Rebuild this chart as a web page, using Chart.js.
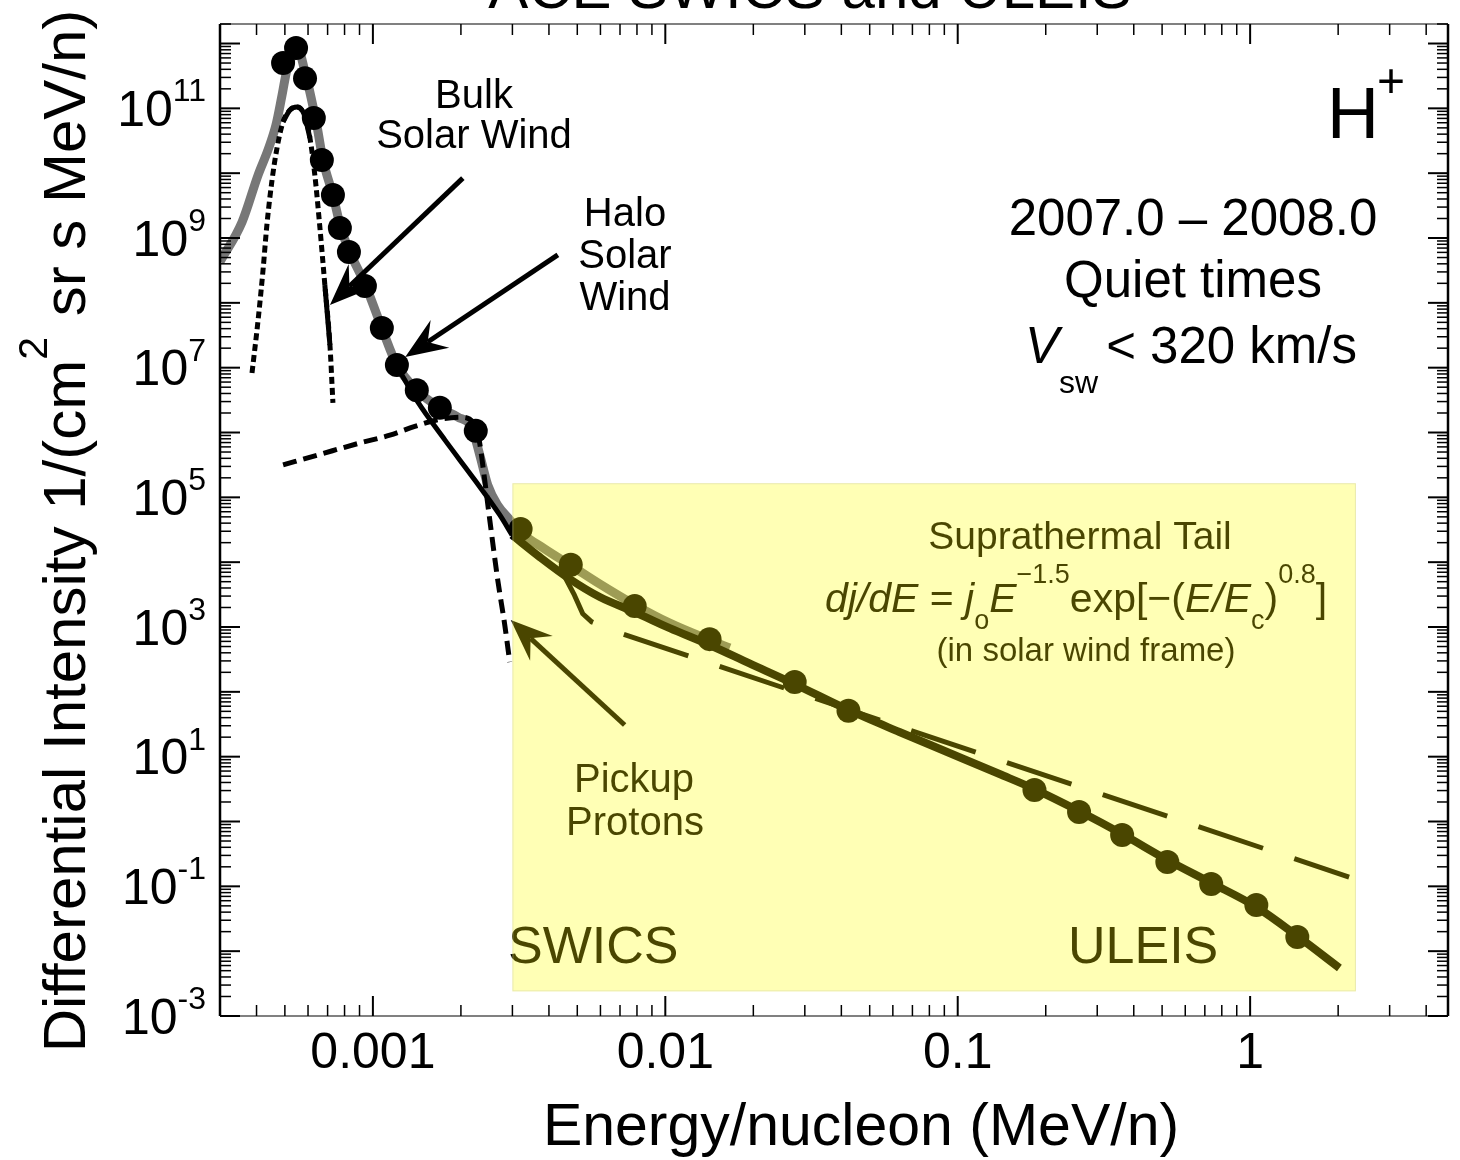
<!DOCTYPE html>
<html>
<head>
<meta charset="utf-8">
<script src="https://cdn.jsdelivr.net/npm/chart.js@4.4.1/dist/chart.umd.min.js"></script>
<style>
  html, body { margin: 0; padding: 0; background: #fff; }
  canvas { display: block; }
</style>
</head>
<body>
<canvas id="spectrum" width="1460" height="1160"></canvas>
<script>
// energy in MeV/n, intensity in 1/(cm2 sr s MeV/n)
const swicsEnergy = [4.93e-4, 5.46e-4, 5.86e-4, 6.28e-4, 6.69e-4, 7.30e-4, 7.71e-4, 8.28e-4, 9.39e-4, 1.073e-3,
                     1.208e-3, 1.413e-3, 1.694e-3, 2.248e-3, 3.20e-3, 4.75e-3, 7.86e-3, 1.417e-2, 2.77e-2, 4.23e-2]
const swicsFlux   = [5.0e11, 8.5e11, 2.9e11, 7.1e10, 1.6e10, 4.6e9, 1.43e9, 6.1e8, 1.82e8, 4.1e7,
                     1.1e7, 4.5e6, 2.4e6, 1.06e6, 3.25e4, 9.1e3, 2.1e3, 650, 142, 51]

const uleisEnergy = [0.183, 0.260, 0.365, 0.521, 0.736, 1.05, 1.45]
const uleisFlux   = [3.06, 1.40, 0.62, 0.237, 0.109, 0.0515, 0.0166]

// total model (grey)
const modelEnergy = [3.0e-4, 3.57e-4, 4.05e-4, 4.38e-4, 4.66e-4, 4.89e-4, 5.08e-4, 5.33e-4, 5.58e-4, 5.86e-4,
                     6.14e-4, 6.43e-4, 6.75e-4, 7.30e-4, 7.77e-4, 8.34e-4, 9.46e-4, 1.073e-3, 1.208e-3, 1.413e-3,
                     1.694e-3, 1.95e-3, 2.18e-3, 2.32e-3, 2.47e-3, 2.67e-3, 2.94e-3, 3.20e-3, 3.87e-3, 4.79e-3,
                     5.97e-3, 7.86e-3, 1.035e-2, 1.417e-2, 1.66e-2]
const modelFlux   = [4.3e8, 1.77e9, 9.4e9, 2.3e10, 5.5e10, 1.6e11, 3.9e11, 6.6e11, 7.4e11, 3.6e11,
                     1.5e11, 5.5e10, 1.6e10, 4.6e9, 1.43e9, 6.1e8, 1.82e8, 4.1e7, 1.1e7, 4.5e6,
                     2.4e6, 1.74e6, 1.17e6, 4.5e5, 1.55e5, 7.6e4, 4.5e4, 2.9e4, 1.6e4, 8.7e3,
                     4.6e3, 2.2e3, 1.15e3, 631, 474]

// suprathermal tail fit
const tailEnergy = [1.217e-3, 1.424e-3, 1.762e-3, 2.231e-3, 2.716e-3, 2.99e-3, 3.72e-3, 4.71e-3, 5.97e-3, 7.86e-3,
                    1.035e-2, 1.417e-2, 1.94e-2, 2.77e-2, 4.23e-2, 6.32e-2, 9.37e-2, 0.139, 0.183, 0.260,
                    0.365, 0.521, 0.736, 1.05, 1.45, 2.02]
const tailFlux   = [9.9e6, 2.96e6, 7.7e5, 1.85e5, 5.35e4, 2.63e4, 1.2e4, 5.5e3, 2.9e3, 1.7e3,
                    960, 528, 275, 132, 52.5, 24.0, 11.4, 5.4, 3.17, 1.45,
                    0.64, 0.255, 0.113, 0.048, 0.0171, 0.0055]

// E^-1.5 power law
const powerEnergy = [4.51e-3, 4.89e-3, 5.22e-3, 5.60e-3, 6.82e-3, 2.18]
const powerFlux   = [6.2e3, 3.1e3, 1.6e3, 1.2e3, 838, 0.139]

// pickup protons
const pickupEnergy = [4.93e-4, 6.59e-4, 9.03e-4, 1.143e-3, 1.391e-3, 1.694e-3, 2.00e-3, 2.20e-3, 2.31e-3, 2.40e-3,
                      2.51e-3, 2.673e-3, 2.825e-3, 2.938e-3]
const pickupFlux   = [3.16e5, 4.6e5, 6.9e5, 9.1e5, 1.24e6, 1.60e6, 1.72e6, 1.45e6, 7.5e5, 2.2e5,
                      4.5e4, 5.3e3, 1.07e3, 288]

// bulk solar wind maxwellian
const bulkEnergy = [3.86e-4, 4.05e-4, 4.21e-4, 4.34e-4, 4.52e-4, 4.70e-4, 4.93e-4, 5.20e-4, 5.50e-4, 5.81e-4,
                    6.09e-4, 6.33e-4, 6.59e-4, 6.85e-4, 7.13e-4, 7.30e-4]
const bulkFlux   = [8.3e6, 5.45e7, 3.2e8, 1.59e9, 7.85e9, 2.45e10, 6.2e10, 9.4e10, 1.05e11, 8.2e10,
                    3.5e10, 9.4e9, 1.43e9, 1.89e8, 2.24e7, 2.86e6]
const bulkCoreEnergy = [4.93e-4, 5.20e-4, 5.50e-4, 5.81e-4, 6.09e-4]
const bulkCoreFlux   = [6.2e10, 9.4e10, 1.05e11, 8.2e10, 3.5e10]
const bulkEdgeEnergy = [6.85e-4, 7.13e-4]
const bulkEdgeFlux   = [1.89e8, 2.24e7]

const xTickValues = [0.001, 0.01, 0.1, 1]
const xTickLabels = ['0.001', '0.01', '0.1', '1']
const yTickExponents = [11, 9, 7, 5, 3, 1, -1, -3]

// annotation geometry, in data units
const tailBox = { xMin: 0.003, xMax: 2.3, yMin: 2.4e-3, yMax: 1.65e5 }
const arrows = [
    { from: [2.03e-3, 8.4e9], to: [7.13e-4, 9.3e7] },
    { from: [4.29e-3, 5.5e8], to: [1.29e-3, 1.46e7] },
    { from: [7.26e-3, 30.8],  to: [2.96e-3, 1.28e3] },
]

const FONT = '"Liberation Sans", Arial, Helvetica, sans-serif'
const font = (size, style) => (style || '') + ' ' + size + 'px ' + FONT
const zip  = (xs, ys) => xs.map((x, i) => ({ x: x, y: ys[i] }))

function drawRuns(ctx, runs, x, y, align) {
    const widths = runs.map(r => { ctx.font = font(r.size, r.style); return ctx.measureText(r.t).width + (r.pad || 0) })
    const total  = widths.reduce((a, b) => a + b, 0)
    let cx = align === 'center' ? x - total / 2 : align === 'right' ? x - total : x
    ctx.textAlign = 'left'
    ctx.textBaseline = 'alphabetic'
    runs.forEach((r, i) => {
        ctx.font = font(r.size, r.style)
        ctx.fillText(r.t, cx, y + (r.dy || 0))
        cx += widths[i]
    })
}

function seg(ctx, x0, y0, x1, y1) {
    ctx.beginPath(); ctx.moveTo(x0, y0); ctx.lineTo(x1, y1); ctx.stroke()
}

function arrow(ctx, x0, y0, x1, y1) {
    const ang = Math.atan2(y1 - y0, x1 - x0), len = 45, half = 0.38, notch = 27
    const sx = x1 - notch * Math.cos(ang), sy = y1 - notch * Math.sin(ang)
    ctx.lineWidth = 5
    ctx.lineCap = 'butt'
    seg(ctx, x0, y0, sx, sy)
    ctx.beginPath()
    ctx.moveTo(x1, y1)
    ctx.lineTo(x1 - len * Math.cos(ang - half), y1 - len * Math.sin(ang - half))
    ctx.lineTo(sx, sy)
    ctx.lineTo(x1 - len * Math.cos(ang + half), y1 - len * Math.sin(ang + half))
    ctx.closePath()
    ctx.fill()
}

const paper = {
    id: 'paper',
    beforeDraw(chart) {
        const c = chart.ctx
        c.save(); c.fillStyle = '#fff'; c.fillRect(0, 0, chart.width, chart.height); c.restore()
    }
}

const decorations = {
    id: 'decorations',
    afterDatasetsDraw(chart) {
        const { ctx, chartArea: a, scales: { x, y } } = chart
        ctx.save()
        ctx.fillStyle = '#000'
        ctx.strokeStyle = '#000'

        // frame
        ctx.lineWidth = 2
        ctx.strokeStyle = '#808080'
        seg(ctx, a.left, a.top, a.right, a.top)
        seg(ctx, a.left, a.bottom, a.right, a.bottom)
        ctx.strokeStyle = '#000'
        ctx.lineWidth = 2.5
        seg(ctx, a.left, a.top, a.left, a.bottom)
        seg(ctx, a.right, a.top, a.right, a.bottom)

        // ticks
        for (let d = -4; d <= 1; d++) for (let m = 1; m <= 9; m++) {
            const v = m * Math.pow(10, d)
            if (v <= x.min * 1.001 || v > x.max) continue
            const px = x.getPixelForValue(v), len = m === 1 ? 20 : 11
            ctx.lineWidth = m === 1 ? 2 : 1.5
            seg(ctx, px, a.bottom, px, a.bottom - len)
            seg(ctx, px, a.top, px, a.top + len)
        }
        for (let d = -3; d <= 12; d++) for (let m = 1; m <= 9; m++) {
            const v = m * Math.pow(10, d)
            if (v < y.min * 0.999 || v > y.max) continue
            const py = y.getPixelForValue(v), len = m === 1 ? 20 : 11
            ctx.lineWidth = m === 1 ? 2 : 1.5
            seg(ctx, a.left, py, a.left + len, py)
            seg(ctx, a.right, py, a.right - len, py)
        }

        // tick labels
        ctx.font = font(50)
        ctx.textAlign = 'center'
        xTickValues.forEach((v, i) => ctx.fillText(xTickLabels[i], x.getPixelForValue(v), a.bottom + 52))
        yTickExponents.forEach(e => {
            const py = y.getPixelForValue(Math.pow(10, e))
            drawRuns(ctx, [{ t: '10', size: 50 }, { t: String(e), size: 32, dy: -24.5 }], 206, py + 17.5, 'right')
        })

        // axis titles
        ctx.font = font(59)
        ctx.textAlign = 'center'
        ctx.fillText('Energy/nucleon (MeV/n)', 861, 1145)
        ctx.save()
        ctx.translate(85, 531)
        ctx.rotate(-Math.PI / 2)
        drawRuns(ctx, [
            { t: 'Differential Intensity 1/(cm', size: 60 },
            { t: '2', size: 41, dy: -38, pad: 4 },
            { t: ' sr s MeV/n)', size: 60 },
        ], 0, 0, 'center')
        ctx.restore()

        // title, clipped by the top of the picture
        ctx.font = font(60)
        ctx.textAlign = 'center'
        ctx.fillText('ACE SWICS and ULEIS', 810, 8)

        // labels
        ctx.font = font(72)
        ctx.textAlign = 'left'
        ctx.fillText('H', 1327, 138)
        ctx.font = font(48)
        ctx.textBaseline = 'middle'
        ctx.fillText('+', 1377, 84)
        ctx.textBaseline = 'alphabetic'

        ctx.font = font(51)
        ctx.textAlign = 'center'
        ctx.fillText('2007.0 \u2013 2008.0', 1193, 235)
        ctx.fillText('Quiet times', 1193, 297)
        drawRuns(ctx, [
            { t: 'V', size: 51, style: 'italic' },
            { t: 'sw', size: 32, dy: 30, pad: 8 },
            { t: '< 320 km/s', size: 51 },
        ], 1025, 363, 'left')

        ctx.font = font(40)
        ctx.textAlign = 'center'
        ctx.fillText('Bulk', 474, 108)
        ctx.fillText('Solar Wind', 474, 148)
        ctx.fillText('Halo', 625, 226)
        ctx.fillText('Solar', 625, 268)
        ctx.fillText('Wind', 625, 310)
        ctx.fillText('Pickup', 634, 792)
        ctx.fillText('Protons', 635, 835)

        ctx.font = font(39)
        ctx.fillText('Suprathermal Tail', 1080, 549)
        drawRuns(ctx, [
            { t: 'dj/dE', size: 41, style: 'italic' },
            { t: ' = ', size: 41 },
            { t: 'j', size: 41, style: 'italic' },
            { t: 'o', size: 27, dy: 17 },
            { t: 'E', size: 41, style: 'italic' },
            { t: '\u22121.5', size: 27, dy: -29 },
            { t: 'exp[\u2212(', size: 41 },
            { t: 'E/E', size: 41, style: 'italic' },
            { t: 'c', size: 27, dy: 17 },
            { t: ')', size: 41 },
            { t: '0.8', size: 27, dy: -29 },
            { t: ']', size: 41 },
        ], 1076, 612, 'center')
        ctx.font = font(33)
        ctx.textAlign = 'center'
        ctx.fillText('(in solar wind frame)', 1086, 661)

        ctx.font = font(52)
        ctx.textAlign = 'left'
        ctx.fillText('SWICS', 508, 963)
        ctx.fillText('ULEIS', 1068, 963)

        // arrows
        arrows.forEach(ar => arrow(ctx,
            x.getPixelForValue(ar.from[0]), y.getPixelForValue(ar.from[1]),
            x.getPixelForValue(ar.to[0]), y.getPixelForValue(ar.to[1])))

        // yellow tint over the suprathermal region
        const bx0 = x.getPixelForValue(tailBox.xMin), bx1 = x.getPixelForValue(tailBox.xMax)
        const by0 = y.getPixelForValue(tailBox.yMax), by1 = y.getPixelForValue(tailBox.yMin)
        ctx.globalCompositeOperation = 'screen'
        ctx.fillStyle = 'rgb(74,70,0)'
        ctx.fillRect(bx0, by0, bx1 - bx0, by1 - by0)
        ctx.globalCompositeOperation = 'multiply'
        ctx.fillStyle = 'rgb(255,255,181)'
        ctx.fillRect(bx0, by0, bx1 - bx0, by1 - by0)
        ctx.globalCompositeOperation = 'source-over'
        ctx.strokeStyle = 'rgba(200,200,160,0.4)'
        ctx.lineWidth = 1
        ctx.strokeRect(bx0 + 0.5, by0 + 0.5, bx1 - bx0 - 1, by1 - by0 - 1)
        ctx.restore()
    }
}

const line = (data, color, width, dash, order, smooth, offset) => ({
    data: data, showLine: true, pointRadius: 0, borderColor: color, borderWidth: width,
    borderDash: dash, borderDashOffset: offset || 0, borderCapStyle: 'butt', borderJoinStyle: 'round', order: order,
    cubicInterpolationMode: smooth ? 'monotone' : 'default', tension: 0,
})

const tailPoints = zip(tailEnergy, tailFlux)
const tailLow    = tailPoints.filter(p => p.x <= tailBox.xMin)
const tailHigh   = tailPoints.filter(p => p.x >= tailLow[tailLow.length - 1].x)

new Chart(document.getElementById('spectrum'), {
    type: 'scatter',
    data: {
        datasets: [
            { data: zip(swicsEnergy, swicsFlux), pointRadius: 12, backgroundColor: '#000', borderWidth: 0, order: 0 },
            { data: zip(uleisEnergy, uleisFlux), pointRadius: 12, backgroundColor: '#000', borderWidth: 0, order: 0 },
            line(tailLow, '#000', 5, [], 1, true),
            line(tailHigh, '#000', 8, [], 1, true),
            line(zip(powerEnergy, powerFlux), '#000', 5, [68, 33], 2, false, 12),
            line(zip(pickupEnergy, pickupFlux), '#000', 5, [14, 7], 3, true),
            line(zip(bulkCoreEnergy, bulkCoreFlux), '#000', 5, [], 3, true),
            line(zip(bulkEdgeEnergy, bulkEdgeFlux), '#000', 5, [], 3, false),
            line(zip(bulkEnergy, bulkFlux), '#000', 5, [7, 4], 4, true),
            line(zip(modelEnergy, modelFlux), '#777', 9, [], 5, true),
        ]
    },
    options: {
        responsive: false,
        animation: false,
        devicePixelRatio: 1,
        layout: { padding: { left: 220, right: 11, top: 24, bottom: 144 } },
        plugins: { legend: { display: false }, tooltip: { enabled: false } },
        scales: {
            x: { type: 'logarithmic', min: 3e-4, max: 4.75, display: false },
            y: { type: 'logarithmic', min: 1e-3, max: 2e12, display: false },
        },
    },
    plugins: [paper, decorations],
})
</script>
</body>
</html>
